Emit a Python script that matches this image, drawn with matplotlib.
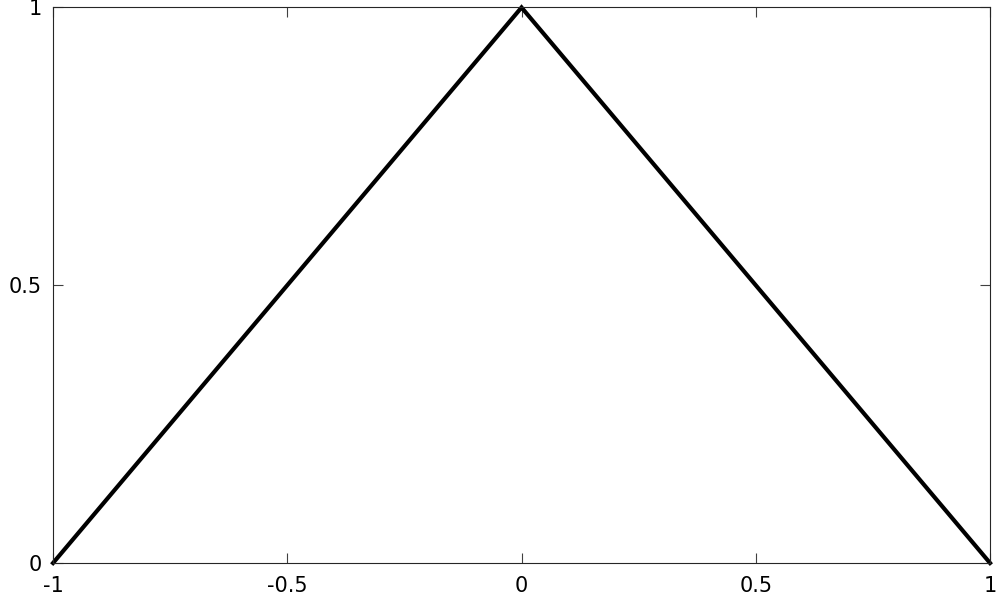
import matplotlib
matplotlib.use("Agg")
import matplotlib.pyplot as plt

x_vals = [-1, 0, 1]
y_vals = [0, 1, 0]
x_ticks = [-1, -0.5, 0, 0.5, 1]
x_labels = ["-1", "-0.5", "0", "0.5", "1"]
y_ticks = [0, 0.5, 1]
y_labels = ["0", "0.5", "1"]

plt.rcParams['font.family'] = ['DejaVu Sans']

fig = plt.figure(figsize=(9.97, 5.98), dpi=100)
ax = fig.add_axes([0.0532, 0.0585, 0.9398, 0.929])

ax.plot(x_vals, y_vals, color="black", linewidth=3, solid_joinstyle="miter", clip_on=False)

ax.set_xlim(-1, 1)
ax.set_ylim(0, 1)
ax.set_xticks(x_ticks)
ax.set_xticklabels(x_labels)
ax.set_yticks(y_ticks)
ax.set_yticklabels(y_labels)

ax.tick_params(direction="in", length=7, width=0.8, color="#404040",
               labelsize=15, top=True, right=True)
ax.tick_params(axis="x", pad=9)
ax.tick_params(axis="y", pad=8)
for s in ax.spines.values():
    s.set_color("#262626")
    s.set_linewidth(0.8)

fig.savefig("out.png", dpi=100)
